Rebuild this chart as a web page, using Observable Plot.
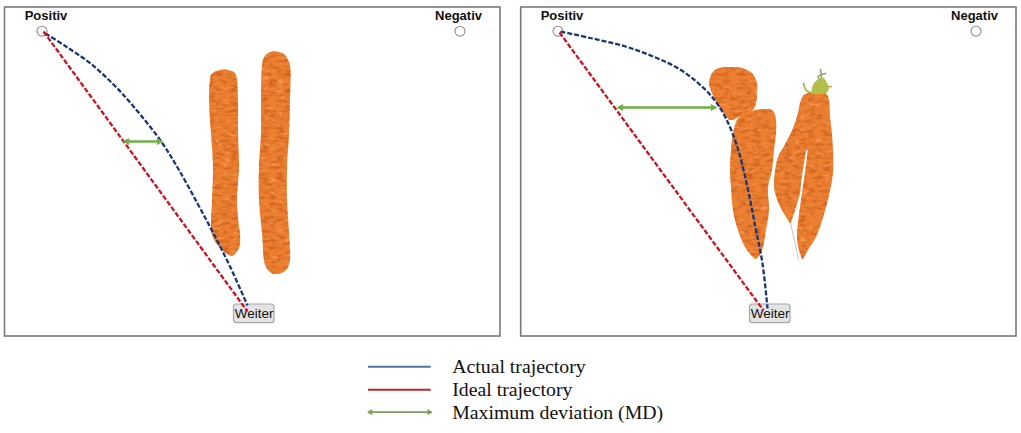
<!DOCTYPE html>
<html>
<head>
<meta charset="utf-8">
<script src="https://cdn.jsdelivr.net/npm/d3@7"></script>
<script src="https://cdn.jsdelivr.net/npm/@observablehq/plot@0.6"></script>
<style>
  html, body { margin: 0; padding: 0; background: #fff; }
  svg { display: block; }
</style>
</head>
<body>
<div id="chart"></div>
<script>
const panelLeft = [4.5, 520.7];
const panelRight = [500, 1016];
const panelTop = [7, 7];
const panelBottom = [336, 336];

const actualX1 = [45, 67, 90, 113, 133, 160, 177, 197, 213, 230, 247];
const actualY1 = [33, 47, 63, 84, 106, 140, 167, 203, 233, 267, 305];
const actualX2 = [560, 592, 625, 655, 678, 697, 712, 725, 737, 747, 755, 762, 767];
const actualY2 = [31, 38, 46, 57, 68, 82, 97, 117, 147, 187, 227, 263, 308];

const idealX1 = [43, 247];
const idealY1 = [31, 311];
const idealX2 = [559, 763];
const idealY2 = [32, 310];

const deviationLeft = [124, 618];
const deviationRight = [161, 715];
const deviationY = [141, 107];

const optionLabels = ["Positiv", "Negativ", "Positiv", "Negativ"];
const optionLabelX = [45.5, 458, 561.5, 974];
const optionLabelY = [15.5, 15.5, 15.5, 15.5];
const optionCircleX = [41.5, 459.5, 557.5, 975.5];
const optionCircleY = [30.7, 30.7, 30.7, 30.7];

const buttonLeft = [233.5, 749.5];
const buttonRight = [274, 790];
const buttonTop = [304, 304];
const buttonBottom = [322.7, 322.7];
const buttonLabelX = [253.7, 769.7];
const buttonLabelY = [313.5, 313.5];

// carrot outlines: left and right edge per row
const carrotAY = [69.5, 70.5, 72, 75, 80, 100, 133, 167, 200, 227, 235, 243, 250, 254, 256];
const carrotAL = [222, 218, 214, 211, 210, 209, 211, 213, 212, 211, 212, 216, 222, 227, 231];
const carrotAR = [226, 230, 234, 236, 237, 238, 238, 239, 237, 239, 240, 240, 238, 235, 232];

const carrotBY = [51.5, 53, 56, 60, 65, 100, 133, 167, 200, 233, 260, 267, 271, 274];
const carrotBL = [273, 268, 265, 263, 262, 261, 261, 259, 259, 262, 264, 266, 269, 273];
const carrotBR = [277, 282, 286, 288, 290, 290, 289, 287, 287, 289, 290, 288, 285, 279];

const headCY = [67, 69, 73, 78, 83, 93, 103, 110, 115, 120];
const headCL = [724, 717, 712, 710, 709, 712, 717, 721, 725, 729];
const headCR = [738, 745, 752, 755, 757, 757, 756, 753, 743, 733];

const bodyCY = [109, 111, 115, 120, 133, 150, 170, 187, 210, 230, 247, 255, 259];
const bodyCL = [760, 752, 742, 737, 733, 731, 730, 731, 733, 738, 745, 751, 755];
const bodyCR = [770, 773, 775, 776, 776, 774, 772, 768, 769, 766, 763, 760, 756];

const topDY = [92, 95, 100, 117, 135, 150];
const topDL = [810, 804, 801, 797, 790, 782];
const topDR = [822, 827, 829, 830, 832, 833];

const legLeftY = [135, 145, 157, 183, 193, 210, 223];
const legLeftL = [790, 785, 778, 774, 775, 782, 790];
const legLeftR = [808, 807, 805, 801, 800, 795, 791];

const legRightY = [148, 173, 207, 237, 250, 259];
const legRightL = [808, 805, 800, 797, 799, 802];
const legRightR = [833, 833, 826, 816, 808, 803];

const stemX = [[803, 806, 814], [820, 821, 819], [825, 818, 821], [831, 826, 823]];
const stemY = [[83, 90, 93], [69, 78, 88], [73, 76, 84], [86, 87, 90]];
const stemColors = ["#a5ae3c", "#9a9a78", "#9a9a78", "#a5ae3c"];
const crownY = [78, 83, 88, 94];
const crownL = [820, 814, 812, 811];
const crownR = [824, 827, 829, 826];
const tailX = [790, 794, 798];
const tailY = [223, 240, 259];

const legendLabels = ["Actual trajectory", "Ideal trajectory", "Maximum deviation (MD)"];
const legendColors = ["#4f71a6", "#b22a2e", "#7ba05b"];
const legendLineLeft = [368, 368, 368];
const legendLineRight = [430.7, 430.7, 430.7];
const legendY = [366.3, 389.3, 411.7];
const legendLabelX = [451.7, 451.7, 451.7];

const navy = "#1a3675";
const red = "#d0101f";
const green = "#70ad47";
const I = arr => arr.map((_, i) => i);

function defs() {
  const g = document.createElementNS("http://www.w3.org/2000/svg", "g");
  g.innerHTML = `<defs><filter id="carrot" x="-5%" y="-5%" width="110%" height="110%" color-interpolation-filters="sRGB">
    <feGaussianBlur in="SourceGraphic" stdDeviation="0.6" result="soft"/>
    <feTurbulence type="fractalNoise" baseFrequency="0.13 0.3" numOctaves="3" seed="4" result="noise"/>
    <feGaussianBlur in="noise" stdDeviation="0.5" result="smooth"/>
    <feColorMatrix in="smooth" type="matrix" values="0 0 0 0 0.82  0 0 0 0 0.39  0 0 0 0 0.13  3 0 0 0 -1.35" result="dark"/>
    <feColorMatrix in="smooth" type="matrix" values="0 0 0 0 0.96  0 0 0 0 0.66  0 0 0 0 0.42  0 -3 0 0 1.2" result="light"/>
    <feComposite in="dark" in2="soft" operator="in" result="darkIn"/>
    <feComposite in="light" in2="soft" operator="in" result="lightIn"/>
    <feMerge><feMergeNode in="soft"/><feMergeNode in="lightIn"/><feMergeNode in="darkIn"/></feMerge>
  </filter></defs>`;
  return g;
}

function carrot(ys, ls, rs, fill = "#ec8030") {
  return Plot.areaX(ys, {y: ys, x1: ls, x2: rs, curve: "catmull-rom", fill, imageFilter: "url(#carrot)"});
}

function dashed(xs, ys, stroke) {
  return Plot.line(xs, {
    x: xs, y: ys, stroke, strokeWidth: 2.3, strokeDasharray: "5,2", strokeLinecap: "butt",
    curve: "catmull-rom", imageFilter: "blur(0.25px)"
  });
}

// Plot.arrow has one head, so draw it in both directions
function doubleArrow(x1, x2, y, stroke, strokeWidth) {
  const opts = {y1: [y], y2: [y], stroke, strokeWidth, headLength: 3.6};
  return [
    Plot.arrow([y], {...opts, x1: [x1], x2: [x2]}),
    Plot.arrow([y], {...opts, x1: [x2], x2: [x1]})
  ];
}

const chart = Plot.plot({
  width: 1021,
  height: 433,
  margin: 0,
  x: {domain: [0, 1021], range: [0, 1021], axis: null},
  y: {domain: [0, 433], range: [0, 433], axis: null},
  style: {background: "#fff"},
  marks: [
    defs,
    Plot.rect(I(panelLeft), {
      x1: panelLeft, x2: panelRight, y1: panelTop, y2: panelBottom,
      stroke: "#7a7a7a", strokeWidth: 1.6, fill: "none"
    }),
    carrot(carrotAY, carrotAL, carrotAR),
    carrot(carrotBY, carrotBL, carrotBR),
    carrot(bodyCY, bodyCL, bodyCR),
    carrot(headCY, headCL, headCR),
    Plot.line(tailX, {x: tailX, y: tailY, stroke: "#c9c5be", strokeWidth: 1}),
    carrot(topDY, topDL, topDR),
    carrot(legLeftY, legLeftL, legLeftR),
    carrot(legRightY, legRightL, legRightR),
    ...stemX.map((xs, i) => Plot.line(xs, {x: xs, y: stemY[i], stroke: stemColors[i], strokeWidth: 1.6, curve: "catmull-rom"})),
    Plot.areaX(crownY, {y: crownY, x1: crownL, x2: crownR, fill: "#b3bf4a", curve: "catmull-rom"}),
    Plot.dot(I(optionCircleX), {
      x: optionCircleX, y: optionCircleY, r: 5, stroke: "#8c8c8c", strokeWidth: 1.1, fill: "#fff"
    }),
    Plot.text(optionLabels, {
      x: optionLabelX, y: optionLabelY, text: optionLabels,
      fontFamily: "Liberation Sans", fontWeight: "bold", fontSize: 13, fill: "#111"
    }),
    Plot.rect(I(buttonLeft), {
      x1: buttonLeft, x2: buttonRight, y1: buttonTop, y2: buttonBottom,
      fill: "#e4e4e4", stroke: "#a8a8a8", strokeWidth: 1.2, rx: 3
    }),
    Plot.text(buttonLabelX, {
      x: buttonLabelX, y: buttonLabelY, text: () => "Weiter",
      fontFamily: "Liberation Sans", fontSize: 13.5, fill: "#111"
    }),
    dashed(actualX1, actualY1, navy),
    dashed(actualX2, actualY2, navy),
    dashed(idealX1, idealY1, red),
    dashed(idealX2, idealY2, red),
    ...doubleArrow(deviationLeft[0], deviationRight[0], deviationY[0], green, 1.9),
    ...doubleArrow(deviationLeft[1], deviationRight[1], deviationY[1], green, 1.9),
    // legend
    Plot.ruleY(legendY.slice(0, 2), {
      y: d => d, x1: legendLineLeft[0], x2: legendLineRight[0],
      stroke: legendColors.slice(0, 2), strokeWidth: 2
    }),
    ...doubleArrow(legendLineLeft[2], legendLineRight[2], legendY[2], legendColors[2], 1.6),
    Plot.text(legendLabels, {
      x: legendLabelX, y: legendY, text: legendLabels, textAnchor: "start",
      fontFamily: "Liberation Serif", fontSize: 19.8, fill: "#111"
    })
  ]
});

document.getElementById("chart").append(chart);
</script>
</body>
</html>
